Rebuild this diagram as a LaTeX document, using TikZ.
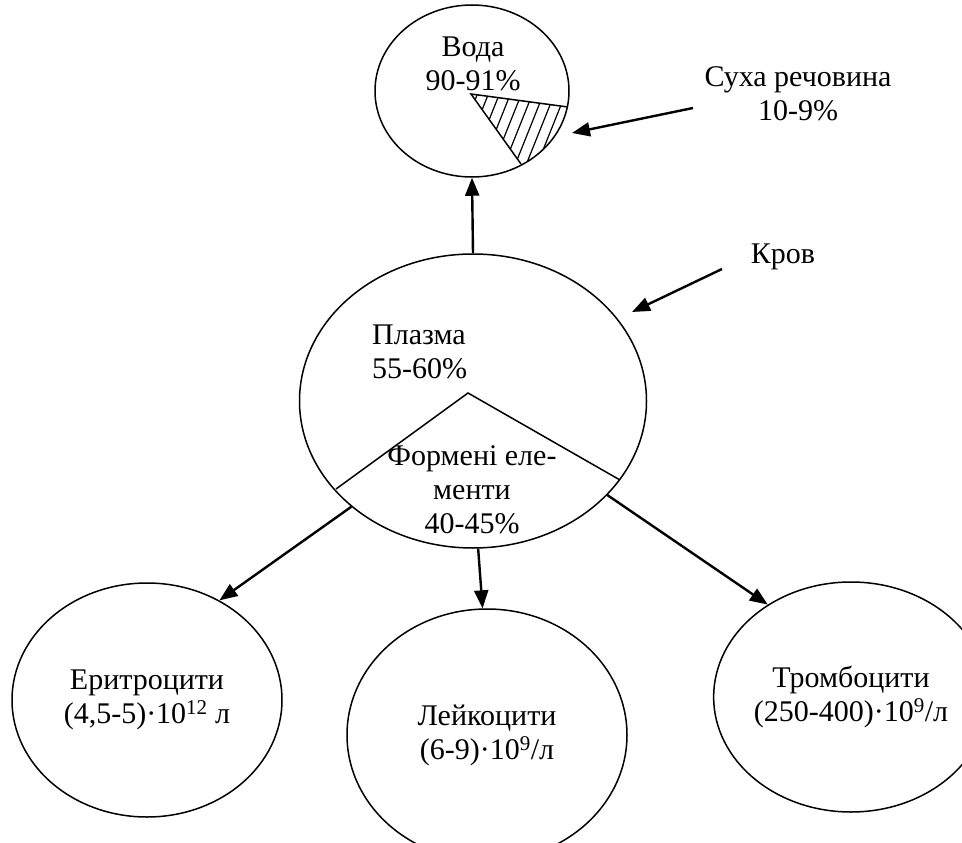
\documentclass[tikz,border=0pt]{standalone}
\usepackage{fontspec}
\setmainfont{Liberation Serif}
\usetikzlibrary{shapes.geometric,arrows.meta}
\begin{document}
\begin{tikzpicture}[x=1pt,y=-1pt,
  cell/.style={draw,ellipse,line width=1.5pt,inner sep=0pt,align=center},
  lbl/.style={inner sep=0pt,align=center},
  arr/.style={line width=2.4pt,-{Triangle[length=18pt,width=14pt]}},
  thinline/.style={line width=1.5pt},
  hatch/.style={line width=1.2pt},
  font=\fontsize{30}{34}\selectfont]
\useasboundingbox (0,0) rectangle (962,843);

% top circle: water
\node[cell,minimum width=194pt,minimum height=172pt] (water) at (472,91) {};
\node[lbl] (watertext) at (473,64) {Вода\\90-91\%};
\coordinate (apex) at (471,94);
\coordinate (sa) at (568,107);
\coordinate (sb) at (521,164);
\begin{scope}
  \clip (apex) -- plot[domain=11:59,samples=30] ({472+97*cos(\x)},{91+86*sin(\x)}) -- cycle;
  \foreach \i in {-6,...,14} \draw[hatch] (430+\i*11,185) -- ++(48,-120);
\end{scope}
\draw[thinline] (sa) -- (apex) -- (sb);

% dry matter label
\node[lbl] (dry) at (798,94) {Суха речовина\\10-9\%};
\coordinate (dryTail) at (693,108);
\coordinate (dryTip) at (572,133);
\draw[arr] (dryTail) -- (dryTip);

% plasma ellipse
\node[cell,minimum width=347pt,minimum height=294pt] (plasma) at (473,401) {};
\node[lbl,anchor=west,align=left] (plasmatext) at (372,352) {Плазма\\55-60\%};
\coordinate (papex) at (468,393);
\coordinate (pl) at (336,489);
\coordinate (pr) at (620,480);
\draw[thinline] (pl) -- (papex) -- (pr);
\node[lbl] (formtext) at (472,490) {Формені еле-\\менти\\40-45\%};

% blood label
\node[lbl,anchor=base] (blood) at (783,263) {Кров};
\coordinate (bloodTail) at (722,269);
\coordinate (bloodTip) at (632,312);
\draw[arr] (bloodTail) -- (bloodTip);

\draw[arr] (plasma.north) -- (water.south);

% bottom cells
\node[cell,minimum width=270pt,minimum height=234pt] (ery) at (147,700) {Еритроцити\\(4,5-5)·10\textsuperscript{12} л};
\node[cell,minimum width=280pt,minimum height=252pt] (leu) at (487,735) {Лейкоцити\\(6-9)·10\textsuperscript{9}/л};
\node[cell,minimum width=270pt,minimum height=230pt] (thr) at (851,697) {Тромбоцити\\(250-400)·10\textsuperscript{9}/л};

\draw[arr] (plasma.221) -- (ery.54.6);
\draw[arr] (plasma.272.7) -- (leu.92.3);
\draw[arr] (plasma.-35) -- (thr.132.5);
\end{tikzpicture}
\end{document}
